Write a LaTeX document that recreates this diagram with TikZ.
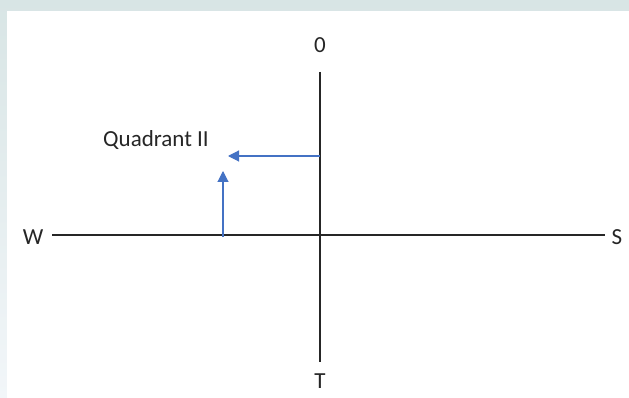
\documentclass[tikz,border=0pt]{standalone}
\usepackage{fontspec}
\setmainfont{Carlito}
\usetikzlibrary{arrows.meta}
\definecolor{bgtop}{HTML}{D8E5E5}
\definecolor{bgbot}{HTML}{F2F6F9}
\definecolor{arrowblue}{HTML}{4472C4}
\definecolor{txt}{HTML}{262626}
\tikzset{
  lbl/.style={font=\fontsize{23}{26}\selectfont, text=txt, inner sep=0pt},
  axis/.style={draw=black!85, line width=1.1pt},
  bluearrow/.style={draw=arrowblue, line width=1.1pt, -{Triangle[length=11pt,width=11pt]}}
}
\begin{document}
\begin{tikzpicture}[x=1pt,y=-1pt]
\useasboundingbox (0,0) rectangle (629,398);
\shade[top color=bgtop, bottom color=bgbot] (0,0) rectangle (629,398);
\fill[white] (7,11) rectangle (629,398);
\node[lbl] (zero) at (320,45) {0};
\node[lbl] (t) at (320,381) {T};
\node[lbl] (w) at (33,237) {W};
\node[lbl] (s) at (617,237) {S};
\node[lbl, anchor=west] (q) at (103,140) {Quadrant II};
\coordinate (vtop) at (320,72);
\coordinate (vbot) at (320,362);
\coordinate (hl) at (52,235);
\coordinate (hr) at (605,235);
\draw[axis] (vtop) -- (vbot);
\draw[axis] (hl) -- (hr);
\coordinate (a1s) at (320,156);
\coordinate (a1e) at (228,156);
\coordinate (a2s) at (223,237);
\coordinate (a2e) at (223,171);
\draw[bluearrow] (a1s) -- (a1e);
\draw[bluearrow] (a2s) -- (a2e);
\end{tikzpicture}
\end{document}
